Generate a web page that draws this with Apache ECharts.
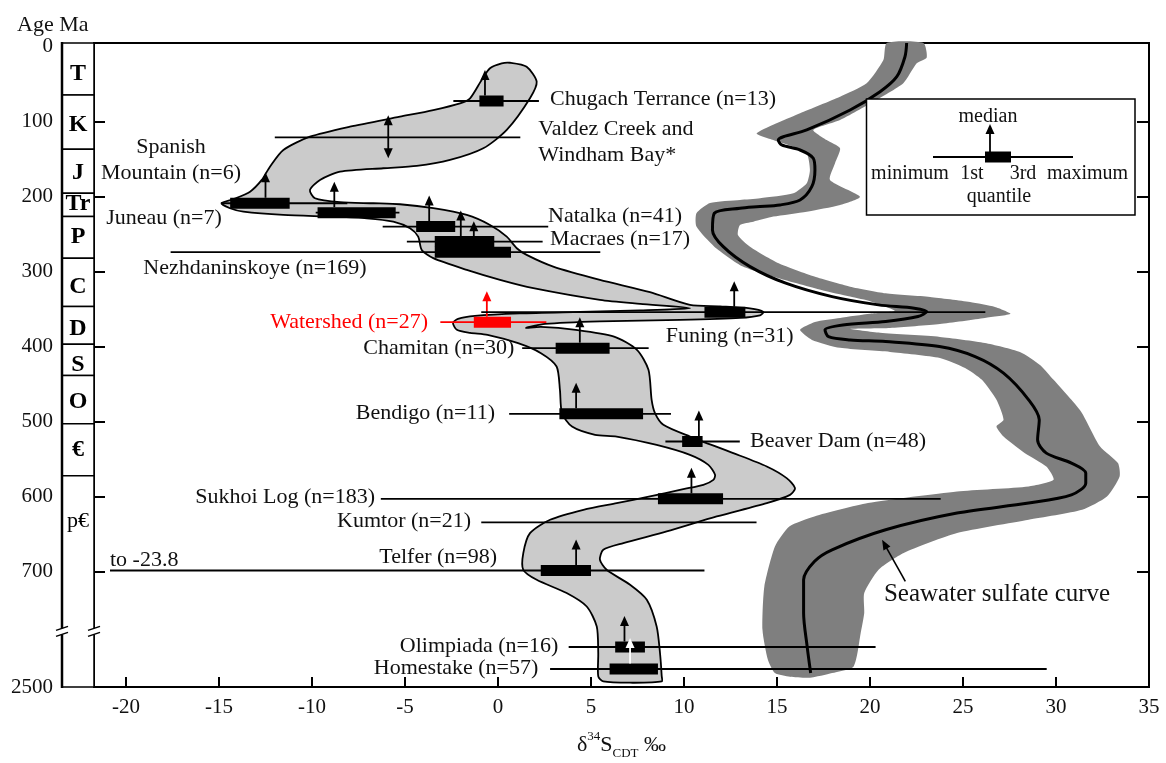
<!DOCTYPE html>
<html>
<head>
<meta charset="utf-8">
<title>δ34S of sulfides through time</title>
<script src="https://cdn.jsdelivr.net/npm/echarts@6.0.0/dist/echarts.min.js"></script>
<style>
  html, body { margin: 0; padding: 0; background: #fff; }
  #chart { width: 1166px; height: 763px; }
</style>
</head>
<body>
<div id="chart"></div>
<script>
const FONT = '"Liberation Serif", "Times New Roman", Times, serif';

// ---- δ34S axis (‰ CDT) ----
const d34sMin = -21.72, d34sMax = 35;
const d34sTicks = [-20, -15, -10, -5, 0, 5, 10, 15, 20, 25, 30, 35];

// ---- Age axis: linear in Ma down to the break, compressed span below it to 2500 Ma ----
const agePosMin = -4.7, agePosMax = 853.6, agePosBreak = 779.5;
const ageTickPos  = [0, 100, 200, 300, 400, 500, 600, 700, 853.6];
const ageTickText = ['0', '100', '200', '300', '400', '500', '600', '700', '2500'];
const ageInnerTicks = [100, 200, 300, 400, 500, 600, 700];

// ---- Geological periods (column at the left) ----
const periodNames    = ['T', 'K', 'J', 'Tr', 'P', 'C', 'D', 'S', 'O', '€', 'p€'];
const periodBase     = [64.6, 137, 195.6, 226.7, 282.1, 346.6, 396.7, 438.5, 502.9, 572.1, 853.6];
const periodLabelPos = [35.7, 104.6, 168.1, 209.8, 254.2, 320, 376.7, 424.3, 473.1, 537.5, 633];

// ---- Deposits: δ34S summary statistics ----
const depositNames = ['Chugach Terrance', 'Valdez Creek and\nWindham Bay*', 'Spanish\nMountain', 'Juneau',
  'Natalka', 'Macraes', 'Nezhdaninskoye', 'Watershed', 'Funing', 'Chamitan', 'Bendigo', 'Beaver Dam',
  'Sukhoi Log', 'Kumtor', 'Telfer', 'Olimpiada', 'Homestake'];
const sampleCount = [13, null, 6, 7, 41, 17, 169, 27, 31, 30, 11, 48, 183, 21, 98, 16, 57];
const depositAgePos = [72.6, 121, 208.9, 221.4, 240, 260, 274.1, 367.4, 354.1, 402, 489.5, 526.4, 602.8, 634.3, 698.3, 800.3, 829.6];
const minD34S    = [-2.4, -12.0, -14.9, -9.8, -6.2, -4.9, -17.6, -3.1, -0.9, 1.3, 0.6, 9.0, -6.3, -0.9, -23.8, 3.8, 2.8];
const q1D34S     = [-1.0, null, -14.4, -9.7, -4.4, -3.4, -3.4, -1.3, 11.1, 3.1, 3.3, 9.9, 8.6, null, 2.3, 6.3, 6.0];
const medianD34S = [-0.7, -5.9, -12.5, -8.8, -3.7, -2.0, -1.3, -0.6, 12.7, 4.4, 4.2, 10.8, 10.4, null, 4.2, 6.8, 7.1];
const q3D34S     = [0.3, null, -11.2, -5.5, -2.3, -0.2, 0.7, 0.7, 13.3, 6.0, 7.8, 11.0, 12.1, null, 5.0, 7.9, 8.6];
const maxD34S    = [2.2, 1.2, -8.1, -5.3, 2.7, 2.4, 5.5, 2.6, 26.2, 8.1, 9.3, 13.0, 23.8, 13.9, 11.1, 20.3, 29.5];
const highlightedDeposit = 'Watershed';
const twoWayMedian = ['Valdez Creek and\nWindham Bay*'];
const whiteMedian = ['Homestake'];
// whiskers reaching past the axis are cut here and annotated
const whiskerFloor = -20.86;

// label anchors: [δ34S, age position, alignment]
const depositLabelAt = [
  [2.8, 70.3, 'left'], [2.17, 127.5, 'left'], [-17.58, 151.2, 'center'], [-14.85, 228.9, 'right'],
  [2.69, 226.8, 'left'], [2.8, 256.8, 'left'], [-19.07, 295.1, 'left'], [-3.76, 367.4, 'right'],
  [9.02, 386.6, 'left'], [0.88, 402, 'right'], [-0.16, 488.6, 'right'], [13.55, 526.4, 'left'],
  [-6.61, 600.1, 'right'], [-1.45, 632, 'right'], [-0.05, 680, 'right'], [3.24, 798.8, 'right'],
  [2.17, 828.3, 'right']
];

// ---- Envelope around the deposit data (outline, δ34S / age position) ----
const envelopeD34S = [0.65, 0.2, -0.43, -0.88, -1.5, -2.04, -3.48, -5.27, -7.96, -10.11, -11.54, -12.26, -12.7, -13.33, -14.23, -14.86,
  -14.41, -13.69, -11.54, -8.86, -7.06, -5.63, -4.73, -4.29, -4.1, -3.48, -1.68, 0.11, 1.9, 5.48, 7.64, 10.32,
  7.64, 4.41, 1.18, -1.24, -2.15, -2.42, -2.21, -1.5, -0.56, 1.08, 2.31, 3.15, 3.33, 3.44, 3.98, 5.22, 6.38, 8.53,
  10.32, 11.31, 11.67, 11.58, 11.04, 9.96, 8.17, 6.38, 4.59, 2.8, 1.72, 1.36, 1.36, 2.08, 3.69, 4.77, 5.31, 5.39,
  5.39, 5.66, 7.1, 8.8,
  8.8, 8.71, 8.53, 8, 7.1, 5.84, 5.48, 5.66, 6.74, 9.07, 11.76, 14.45, 15.7, 15.97, 15.52, 14.45, 12.65, 10.32,
  8.89, 8.44, 8.26, 8.09, 7.47, 6.24, 4.18, 2.31, 1.51, 2.53, 5.48, 9.79, 13.01, 14.09, 14.27, 13.55, 11.94, 10.32,
  8.17, 5.48, 2.97, 1.54, 1.01, 0.47, -0.43, -1.68, -3.48, -5.27, -6.7, -8.49, -9.84, -10.11, -9.57, -8.49, -6.17,
  -4.37, -2.58, -0.79, 0.47, 1.72, 2.08, 1.54];
const envelopeAgePos = [21.6, 22.4, 29, 44.6, 69, 75.7, 84.6, 93.5, 106.8, 120.2, 137.9, 160.1, 177.8, 193.4, 203.5, 208.9,
  215.5, 220.1, 224.5, 226.7, 228.9, 233.4, 242.2, 253.4, 271.1, 282.1, 297.7, 311, 322.1, 337.7, 343, 348.7,
  351.7, 353.7, 355.7, 359, 363, 368.3, 377.6, 381.6, 384.3, 395.4, 408.7, 426.5, 457.6, 488.6, 506.5, 517.5, 519.8, 531,
  544.2, 557.5, 570.8, 577.5, 584.1, 589.9, 599.7, 608.5, 617.4, 630.7, 648.5, 675.1, 697.4, 710.7, 728.4, 746.3, 772.9, 808.3,
  839.5, 846.2, 847.9, 846.2,
  838.6, 808.3, 772.9, 737.3, 717.3, 697.4, 684, 670.7, 661.8, 646.3, 626.3, 608.5, 597.5, 588.5, 575.2, 559.7, 541.9, 519.8,
  504.2, 488.6, 470.9, 430.9, 404.3, 386.6, 377.6, 373.6, 375, 369.7, 366.3, 364.3, 361.7, 358.3, 353.7, 349, 346.3, 344.3,
  327.3, 311, 293.3, 277.7, 268.8, 253.4, 237.8, 224.5, 215.5, 210.2, 208.9, 207.5, 202.2, 191.2, 177.8, 166.8, 162.2,
  159.2, 151.2, 135.6, 111.2, 69, 46.9, 26.9];

// ---- Seawater sulfate curve ----
const sulfateD34S = [21.97, 21.88, 21.44, 20.54, 18.93, 16.6, 15.34, 15.07, 15.25, 16.24, 16.95, 17.04, 16.87, 16.24, 15.16,
  13.91, 13.01, 11.63, 11.53, 12.11, 13.55, 15.47, 17.96, 20.46, 22.38, 23.05, 22.58, 20.84, 18.54, 17.58, 17.77, 18.93,
  20.84, 23.73, 25.65, 27.18, 28.53, 29.1, 29.01, 29.48, 30.83, 31.6, 31.6, 30.83, 28.53, 24.68, 20.84, 17.96, 17.01,
  16.43, 16.43, 16.62, 16.81];
const sulfateAgePos = [-4.7, 13.6, 40.2, 60.2, 84.6, 111.2, 120.2, 124.6, 131.2, 137.9, 148.9, 164.5, 186.8, 204.5, 211.1,
  213.4, 215.5, 222.2, 244.4, 266.7, 293.3, 315.4, 333.3, 344.3, 348.7, 353.3, 359.9, 366.6, 371, 377.6, 386.6, 391,
  393.2, 399.9, 413.2, 435.3, 470.9, 497.5, 524.2, 541.9, 555.2, 568.5, 581.9, 597.5, 608.5, 621.8, 644.1, 670.7, 686.3,
  710.7, 755, 799.5, 835];
// uncertainty band: western edge top→bottom, eastern edge top→bottom
const bandWestD34S = [20.9, 20.72, 19.82, 18.39, 16.24, 13.91, 14.8, 15.88, 16.6, 16.77, 16.6, 15.88, 14.09, 13.01, 11.4,
  10.67, 10.67, 11.63, 13.17, 15.09, 17.39, 18.93, 20.08, 21.34, 20, 18.39, 17.04, 16.24, 16.88, 18.39, 21.08, 23.76,
  25.11, 26.02, 26.8, 27.18, 26.8, 27.18, 28.33, 29.48, 29.87, 28.53, 24.68, 19.89, 17.01, 15.66, 14.89, 14.32, 14.22,
  14.51, 14.89, 15.7];
const bandWestAgePos = [-4.7, 18, 49, 66.9, 89, 115.6, 124.6, 133.5, 142.3, 164.5, 182.2, 195.6, 202.2, 204.5, 208.5,
  222.2, 240, 266.7, 293.3, 308.8, 324.4, 333.3, 340, 352.3, 356.3, 361.7, 367, 377.6, 391, 401.6, 407, 415,
  428.3, 444.2, 470.9, 497.5, 506.5, 519.8, 541.9, 559.7, 577.5, 586.4, 593.1, 608.5, 626.3, 639.7, 666.3, 719.6, 777.3,
  817.2, 835, 840];
const bandEastD34S = [22.87, 23.05, 22.51, 21.79, 20.18, 18.39, 16.95, 17.67, 18.39, 18.12, 17.85, 19.46, 18.39, 16.6, 14.8,
  13.73, 13.01, 12.9, 13.55, 15.09, 17.01, 18.93, 20.84, 23.23, 25.38, 26.72, 27.56, 26.18, 23.76, 21.08, 18.93, 20.54,
  23.76, 26.18, 28.06, 29.14, 29.87, 30.83, 31.4, 32.37, 33.33, 33.42, 32.74, 31.4, 28.53, 24.68, 21.81, 20.46, 19.69,
  19.69, 19.5, 19.12, 17.96, 16.77];
const bandEastAgePos = [-4.7, 14.6, 22.4, 49, 73.5, 97.9, 111.2, 124.6, 135.6, 155.6, 177.8, 200.1, 211.1, 220.1, 226.7,
  233.4, 237.8, 251.1, 266.7, 288.8, 306.6, 320, 328.8, 333.7, 340.4, 347, 356.3, 361.7, 369.7, 375, 376.3, 381.6,
  387, 395, 407, 424.3, 444.2, 470.9, 488.6, 533.1, 555.2, 573.1, 599.7, 617.4, 630.7, 648.5, 675.1, 697.4, 728.4,
  755, 781.7, 826.2, 835, 841.3];

// ---- Annotations ----
const noteText = ['to -23.8', 'Seawater sulfate curve'];
const noteAt = [[-20.86, 684], [20.75, 730.7]];
const noteFontSize = [22, 25];
const curveArrowFrom = [21.9, 712.9];
const curveArrowTo = [20.65, 657.4];

// -------------------------------------------------------------------------
function depositLabel(i) {
  return sampleCount[i] == null ? depositNames[i] : depositNames[i] + ' (n=' + sampleCount[i] + ')';
}

function arrowHead(tip, from, len, halfW) {
  const dx = tip[0] - from[0], dy = tip[1] - from[1];
  const L = Math.hypot(dx, dy) || 1;
  const ux = dx / L, uy = dy / L;
  const bx = tip[0] - ux * len, by = tip[1] - uy * len;
  return [tip, [bx - uy * halfW, by + ux * halfW], [bx + uy * halfW, by - ux * halfW]];
}

function verticalArrow(x, yBase, yTip, color) {
  const dir = yTip < yBase ? 1 : -1;
  return [
    { type: 'line', shape: { x1: x, y1: yBase, x2: x, y2: yTip + dir * 8 }, style: { stroke: color, lineWidth: 1.8 } },
    { type: 'polygon', shape: { points: arrowHead([x, yTip], [x, yBase], 10, 4.5) }, style: { fill: color } }
  ];
}

function renderDeposit(params, api) {
  const i = params.dataIndex;
  const age = depositAgePos[i];
  const color = depositNames[i] === highlightedDeposit ? '#ff0000' : '#000';
  const lo = api.coord([Math.max(minD34S[i], whiskerFloor), age]);
  const hi = api.coord([maxD34S[i], age]);
  const y = lo[1];
  const children = [
    { type: 'line', shape: { x1: lo[0], y1: y, x2: hi[0], y2: y }, style: { stroke: color, lineWidth: 1.8 } }
  ];
  if (q1D34S[i] != null) {
    const a = api.coord([q1D34S[i], age])[0];
    const b = api.coord([q3D34S[i], age])[0];
    children.push({ type: 'rect', shape: { x: a, y: y - 5.5, width: b - a, height: 11 }, style: { fill: color } });
  }
  if (medianD34S[i] != null) {
    const mx = api.coord([medianD34S[i], age])[0];
    if (twoWayMedian.indexOf(depositNames[i]) >= 0) {
      children.push(...verticalArrow(mx, y, y - 22, color), ...verticalArrow(mx, y, y + 21, color));
    } else {
      const c = whiteMedian.indexOf(depositNames[i]) >= 0 ? '#fff' : color;
      children.push(...verticalArrow(mx, y - 5.5, y - 31, c));
    }
  }
  return { type: 'group', children };
}

const chart = echarts.init(document.getElementById('chart'), null, { renderer: 'canvas' });

const ageLabelFormatter = (v) => {
  let best = 0;
  ageTickPos.forEach((p, k) => { if (Math.abs(p - v) < Math.abs(ageTickPos[best] - v)) best = k; });
  return ageTickText[best];
};

const option = {
  animation: false,
  backgroundColor: '#fff',
  title: {
    text: 'Age Ma', left: 12, top: 9,
    textStyle: { fontFamily: FONT, fontSize: 22, fontWeight: 'normal', color: '#111' }
  },
  grid: [
    { left: 94, right: 17, top: 43, bottom: 76, containLabel: false, outerBoundsMode: 'none',
      show: true, borderColor: '#000', borderWidth: 2, backgroundColor: 'transparent' },
    { left: 62, width: 32, top: 43, bottom: 76, containLabel: false, outerBoundsMode: 'none', show: false }
  ],
  xAxis: [
    {
      gridIndex: 0, type: 'value', min: d34sMin, max: d34sMax, position: 'bottom',
      axisLine: { show: false, onZero: false }, splitLine: { show: false },
      axisTick: { show: true, inside: true, length: 10, lineStyle: { color: '#000', width: 2 }, customValues: d34sTicks },
      axisLabel: { customValues: d34sTicks, fontFamily: FONT, fontSize: 21, color: '#111', margin: 10 },
      name: '{a|δ}{sup|34}{a|S}{sub|CDT}{a| ‰}',
      nameLocation: 'middle', nameGap: 43,
      nameTextStyle: {
        rich: {
          a: { fontFamily: FONT, fontSize: 22, color: '#111', lineHeight: 30 },
          sup: { fontFamily: FONT, fontSize: 13, color: '#111', lineHeight: 16, verticalAlign: 'top' },
          sub: { fontFamily: FONT, fontSize: 13, color: '#111', lineHeight: 16, verticalAlign: 'bottom' }
        }
      }
    },
    { gridIndex: 1, type: 'value', min: 0, max: 1, show: false }
  ],
  yAxis: [
    {
      gridIndex: 0, type: 'value', inverse: true, min: agePosMin, max: agePosMax, position: 'left',
      axisLine: { show: false, onZero: false }, splitLine: { show: false }, axisLabel: { show: false },
      axisTick: { show: true, inside: true, length: 11, lineStyle: { color: '#000', width: 2 }, customValues: ageInnerTicks }
    },
    {
      gridIndex: 0, type: 'value', inverse: true, min: agePosMin, max: agePosMax, position: 'right',
      axisLine: { show: false, onZero: false }, splitLine: { show: false }, axisLabel: { show: false },
      axisTick: { show: true, inside: true, length: 12, lineStyle: { color: '#000', width: 2 }, customValues: ageInnerTicks }
    },
    {
      gridIndex: 1, type: 'value', inverse: true, min: agePosMin, max: agePosMax, position: 'left',
      axisLine: { show: false, onZero: false }, splitLine: { show: false }, axisTick: { show: false },
      axisLabel: { customValues: ageTickPos, formatter: ageLabelFormatter, margin: 9, fontFamily: FONT, fontSize: 21, color: '#111' }
    }
  ],
  series: [
    // sulfate uncertainty band
    {
      type: 'custom', xAxisIndex: 0, yAxisIndex: 0, z: 1, silent: true, data: [[0, 0]],
      renderItem: (params, api) => {
        const west = bandWestD34S.map((v, k) => api.coord([v, bandWestAgePos[k]]));
        const east = bandEastD34S.map((v, k) => api.coord([v, bandEastAgePos[k]])).reverse();
        return { type: 'polygon', shape: { points: west.concat(east), smooth: 0.2 }, style: { fill: '#7f7f7f' } };
      }
    },
    // seawater sulfate curve
    {
      type: 'line', xAxisIndex: 0, yAxisIndex: 0, z: 2, silent: true, symbol: 'none', smooth: 0.3,
      data: sulfateD34S.map((v, k) => [v, sulfateAgePos[k]]),
      lineStyle: { color: '#000', width: 3 }
    },
    // deposit envelope
    {
      type: 'custom', xAxisIndex: 0, yAxisIndex: 0, z: 3, silent: true, data: [[0, 0]],
      renderItem: (params, api) => {
        const pts = envelopeD34S.map((v, k) => api.coord([v, envelopeAgePos[k]]));
        return { type: 'polygon', shape: { points: pts, smooth: 0.25 }, style: { fill: '#cbcbcb', stroke: '#000', lineWidth: 1.8 } };
      }
    },
    // deposit statistics
    {
      type: 'custom', xAxisIndex: 0, yAxisIndex: 0, z: 4, silent: true,
      data: depositNames.map((n, k) => [medianD34S[k] == null ? minD34S[k] : medianD34S[k], depositAgePos[k]]),
      renderItem: renderDeposit
    },
    // deposit labels
    {
      type: 'custom', xAxisIndex: 0, yAxisIndex: 0, z: 5, silent: true,
      data: depositNames.map((n, k) => [depositLabelAt[k][0], depositLabelAt[k][1]]),
      renderItem: (params, api) => {
        const i = params.dataIndex;
        const p = api.coord([depositLabelAt[i][0], depositLabelAt[i][1]]);
        return {
          type: 'text', x: p[0], y: p[1],
          style: {
            text: depositLabel(i), fill: depositNames[i] === highlightedDeposit ? '#ff0000' : '#111',
            fontFamily: FONT, fontSize: 22, align: depositLabelAt[i][2], verticalAlign: 'middle', lineHeight: 26
          }
        };
      }
    },
    // notes and curve pointer
    {
      type: 'custom', xAxisIndex: 0, yAxisIndex: 0, z: 5, silent: true, data: [[0, 0]],
      renderItem: (params, api) => {
        const children = noteText.map((t, k) => {
          const p = api.coord(noteAt[k]);
          return { type: 'text', x: p[0], y: p[1], style: { text: t, fill: '#111', fontFamily: FONT, fontSize: noteFontSize[k], align: 'left', verticalAlign: 'middle' } };
        });
        const a = api.coord(curveArrowFrom), b = api.coord(curveArrowTo);
        const head = arrowHead(b, a, 10, 4);
        const dx = b[0] - a[0], dy = b[1] - a[1], L = Math.hypot(dx, dy);
        children.push({ type: 'line', shape: { x1: a[0], y1: a[1], x2: b[0] - dx / L * 8, y2: b[1] - dy / L * 8 }, style: { stroke: '#000', lineWidth: 1.6 } });
        children.push({ type: 'polygon', shape: { points: head }, style: { fill: '#000' } });
        return { type: 'group', children };
      }
    },
    // period column
    {
      type: 'custom', xAxisIndex: 1, yAxisIndex: 2, z: 3, silent: true,
      data: periodNames.map((n, k) => [0.5, periodLabelPos[k]]),
      renderItem: (params, api) => {
        const i = params.dataIndex;
        const top = i === 0 ? agePosMin : periodBase[i - 1];
        const p0 = api.coord([0, top]), p1 = api.coord([1, periodBase[i]]);
        const mid = api.coord([0.5, periodLabelPos[i]]);
        const last = i === periodNames.length - 1;
        return {
          type: 'group', children: [
            { type: 'rect', shape: { x: p0[0], y: p0[1], width: p1[0] - p0[0], height: p1[1] - p0[1] }, style: { fill: '#fff', stroke: '#000', lineWidth: 1.5 } },
            { type: 'text', x: mid[0], y: mid[1], style: { text: periodNames[i], align: 'center', verticalAlign: 'middle', fill: '#000', fontFamily: FONT, fontSize: last ? 22 : 24, fontWeight: last ? 'normal' : 'bold' } }
          ]
        };
      }
    },
    // outer frame line and axis break marks
    {
      type: 'custom', xAxisIndex: 1, yAxisIndex: 2, z: 6, silent: true, data: [[0, 0]],
      renderItem: (params, api) => {
        const t = api.coord([0, agePosMin]), b = api.coord([1, agePosMax]);
        const yb = api.coord([0, agePosBreak])[1];
        const children = [
          { type: 'line', shape: { x1: t[0], y1: t[1] - 1, x2: t[0], y2: b[1] + 1 }, style: { stroke: '#000', lineWidth: 2.5 } }
        ];
        [t[0], b[0]].forEach((x) => {
          children.push({ type: 'rect', shape: { x: x - 4, y: yb - 3, width: 8, height: 6 }, style: { fill: '#fff' } });
          children.push({ type: 'line', shape: { x1: x - 6, y1: yb - 1, x2: x + 6, y2: yb - 5 }, style: { stroke: '#000', lineWidth: 1.5 } });
          children.push({ type: 'line', shape: { x1: x - 6, y1: yb + 5, x2: x + 6, y2: yb + 1 }, style: { stroke: '#000', lineWidth: 1.5 } });
        });
        return { type: 'group', children };
      }
    }
  ],
  // explanation of the box symbol
  graphic: [
    { type: 'rect', z: 10, shape: { x: 866.5, y: 99, width: 268.5, height: 116 }, style: { fill: '#fff', stroke: '#000', lineWidth: 1.5 } },
    { type: 'line', z: 11, shape: { x1: 933, y1: 157, x2: 1073, y2: 157 }, style: { stroke: '#000', lineWidth: 1.8 } },
    { type: 'rect', z: 11, shape: { x: 985, y: 151.5, width: 26, height: 11 }, style: { fill: '#000' } },
    { type: 'line', z: 11, shape: { x1: 990, y1: 152, x2: 990, y2: 132 }, style: { stroke: '#000', lineWidth: 1.8 } },
    { type: 'polygon', z: 11, shape: { points: [[990, 124], [985.5, 134], [994.5, 134]] }, style: { fill: '#000' } },
    { type: 'text', z: 11, x: 988, y: 117, style: { text: 'median', align: 'center', verticalAlign: 'middle', fontFamily: FONT, fontSize: 20, fill: '#111' } },
    { type: 'text', z: 11, x: 910, y: 174, style: { text: 'minimum', align: 'center', verticalAlign: 'middle', fontFamily: FONT, fontSize: 20, fill: '#111' } },
    { type: 'text', z: 11, x: 972, y: 174, style: { text: '1st', align: 'center', verticalAlign: 'middle', fontFamily: FONT, fontSize: 20, fill: '#111' } },
    { type: 'text', z: 11, x: 1023, y: 174, style: { text: '3rd', align: 'center', verticalAlign: 'middle', fontFamily: FONT, fontSize: 20, fill: '#111' } },
    { type: 'text', z: 11, x: 1087.5, y: 174, style: { text: 'maximum', align: 'center', verticalAlign: 'middle', fontFamily: FONT, fontSize: 20, fill: '#111' } },
    { type: 'text', z: 11, x: 999, y: 197, style: { text: 'quantile', align: 'center', verticalAlign: 'middle', fontFamily: FONT, fontSize: 20, fill: '#111' } }
  ]
};

chart.setOption(option);
</script>
</body>
</html>
